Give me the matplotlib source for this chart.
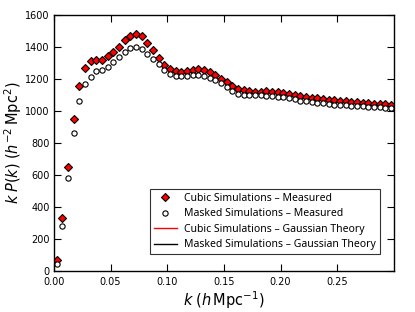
import numpy as np
import matplotlib
matplotlib.use("Agg")
import matplotlib.pyplot as plt
from matplotlib.lines import Line2D

# k bin centres (h/Mpc)
k = 0.0025 + 0.005 * np.arange(60)

cubic_kpk = [70, 331, 650, 952, 1158, 1269, 1310, 1321, 1319, 1341,
             1369, 1402, 1444, 1471, 1483, 1466, 1425, 1379, 1333, 1287,
             1262, 1248, 1243, 1248, 1258, 1263, 1257, 1245, 1226, 1203,
             1180, 1156, 1140, 1130, 1124, 1121, 1122, 1124, 1120, 1117,
             1113, 1107, 1101, 1094, 1089, 1083, 1079, 1075, 1070, 1066,
             1063, 1061, 1058, 1055, 1052, 1050, 1047, 1044, 1041, 1038]

masked_kpk = [45, 279, 581, 862, 1060, 1169, 1214, 1250, 1254, 1273,
              1304, 1337, 1369, 1394, 1398, 1389, 1358, 1327, 1293, 1254,
              1231, 1221, 1221, 1221, 1223, 1225, 1220, 1208, 1191, 1173,
              1148, 1125, 1108, 1102, 1100, 1098, 1099, 1096, 1091, 1088,
              1085, 1079, 1073, 1065, 1060, 1056, 1052, 1048, 1043, 1040,
              1038, 1036, 1034, 1032, 1030, 1028, 1026, 1024, 1022, 1020]

xticks = [0.0, 0.05, 0.10, 0.15, 0.20, 0.25]
yticks = [0, 200, 400, 600, 800, 1000, 1200, 1400, 1600]

fig = plt.figure(figsize=(4.15, 3.12), dpi=100)
ax = fig.add_axes([0.130, 0.131, 0.819, 0.821])

ax.plot(k, cubic_kpk, "D", ms=4.3, mfc="red", mec="black", mew=0.8,
        ls="none", label="Cubic Simulations \u2013 Measured")
ax.plot(k, masked_kpk, "o", ms=3.8, mfc="white", mec="black", mew=0.8,
        ls="none", label="Masked Simulations \u2013 Measured")

handles, labels = ax.get_legend_handles_labels()
handles += [Line2D([], [], color="red", lw=1.0),
            Line2D([], [], color="black", lw=1.0)]
labels += ["Cubic Simulations \u2013 Gaussian Theory",
           "Masked Simulations \u2013 Gaussian Theory"]
leg = ax.legend(handles, labels, loc="lower right", bbox_to_anchor=(0.975, 0.045),
                prop={"family": ["Noto Sans", "DejaVu Sans"], "size": 7.5},
                frameon=True, fancybox=False, handlelength=2.2,
                borderpad=0.4, labelspacing=0.42, handletextpad=0.7)
leg.get_frame().set_edgecolor("black")
leg.get_frame().set_linewidth(0.8)

ax.set_xlim(0, 0.3)
ax.set_ylim(0, 1600)
ax.set_xticks(xticks)
ax.set_xticklabels(["0.00", "0.05", "0.10", "0.15", "0.20", "0.25"])
ax.set_yticks(yticks)
ax.tick_params(direction="in", length=5, width=0.8, labelsize=7,
               top=True, right=True, pad=3)
ax.tick_params(axis="x", pad=4)
for s in ax.spines.values():
    s.set_linewidth(1.0)

ax.set_xlabel(r"$k\;(h\,\mathrm{Mpc}^{-1})$", fontsize=10.5, labelpad=2)
ax.set_ylabel(r"$k\;P(k)\;(h^{-2}\,\mathrm{Mpc}^{2})$", fontsize=10.5, labelpad=1)

fig.savefig("out.png", dpi=100)
